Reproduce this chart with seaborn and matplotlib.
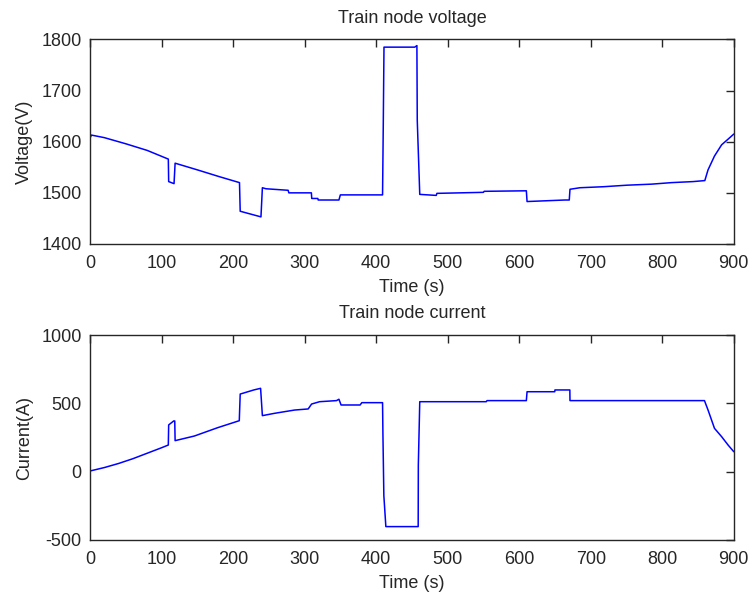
import pandas as pd
import seaborn as sns
import matplotlib.pyplot as plt

# Tensão no nó do trem
tempo_v = [0, 2, 20, 50, 80, 109.5, 110, 117.5, 119, 150, 180, 209, 210, 239, 240, 241,
           246, 277, 278, 309.5, 310, 318.5, 319, 348, 350, 409, 410, 411, 454, 457,
           457.5, 461, 484, 485, 550, 551, 610, 611, 664, 670, 671, 685, 718, 751,
           785, 813, 843, 859.5, 864, 873, 883, 892, 900]
tensao = [1607, 1613, 1608, 1596, 1583, 1566, 1522, 1518, 1558, 1545, 1532, 1520, 1464, 1453, 1481, 1510,
          1508, 1505, 1500, 1500, 1489, 1489, 1486, 1486, 1496, 1496, 1634, 1785, 1785, 1788,
          1642, 1497, 1495, 1499, 1501, 1503, 1504, 1483, 1486, 1486, 1507, 1510, 1512, 1515,
          1517, 1520, 1522, 1524, 1545, 1572, 1594, 1605, 1615]

# Corrente no nó do trem
tempo_i = [0, 20, 40, 60, 80, 100, 109.5, 110, 117, 118.5, 119, 146, 178.5, 208.7, 210, 229,
           238.5, 241, 258, 286, 305, 309.8, 321, 344.6, 348, 351, 377.6, 380, 409, 409.5,
           410.8, 413.6, 458.8, 459, 461, 554, 555, 610, 611, 649.7, 650, 670.8, 671, 859,
           864, 873, 883, 892, 900]
corrente = [5, 30, 60, 95, 135, 175, 195, 342, 371, 371, 227, 261, 322, 373, 568, 598,
            610, 410, 427, 451, 459, 495, 512, 520, 530, 488, 488, 505, 505, 276,
            -175, -402, -402, 49, 512, 512, 520, 520, 585, 585, 598, 598, 520, 520,
            451, 317, 256, 195, 146]

df_v = pd.DataFrame({'t': tempo_v, 'v': tensao})
df_i = pd.DataFrame({'t': tempo_i, 'i': corrente})

sns.set_style("white")
plt.rcParams['font.family'] = ['Liberation Sans', 'DejaVu Sans']
plt.rcParams['font.size'] = 13
plt.rcParams['axes.unicode_minus'] = False  # "-500" com hífen simples, como no original

fig = plt.figure(figsize=(7.53, 5.99), dpi=100)
ax1 = fig.add_axes([0.1195, 0.5927, 0.855, 0.3414])
ax2 = fig.add_axes([0.1195, 0.0985, 0.855, 0.3422])

sns.lineplot(data=df_v, x='t', y='v', ax=ax1, estimator=None, sort=False,
             color='#0000ff', linewidth=1.1)
sns.lineplot(data=df_i, x='t', y='i', ax=ax2, estimator=None, sort=False,
             color='#0000ff', linewidth=1.1)

configs = [
    (ax1, 'Train node voltage', 'Voltage(V)', (1400, 1800), range(1400, 1801, 100)),
    (ax2, 'Train node current', 'Current(A)', (-500, 1000), range(-500, 1001, 500)),
]
for ax, titulo, ylabel, ylim, yticks in configs:
    ax.set_xlim(0, 900)
    ax.set_ylim(*ylim)
    ax.set_xticks(range(0, 901, 100))
    ax.set_yticks(list(yticks))
    ax.set_title(titulo, fontsize=13, pad=12)
    ax.set_xlabel('Time (s)', fontsize=13, labelpad=5)
    ax.set_ylabel(ylabel, fontsize=13, labelpad=6)
    ax.tick_params(direction='in', length=6, width=1, top=True, right=True,
                   labelsize=13, pad=6, colors='#262626')
    ax.tick_params(axis='x', pad=8)
    for lado in ax.spines.values():
        lado.set_visible(True)
        lado.set_color('#262626')
        lado.set_linewidth(1)

plt.savefig('out.png', dpi=100)
plt.close()
